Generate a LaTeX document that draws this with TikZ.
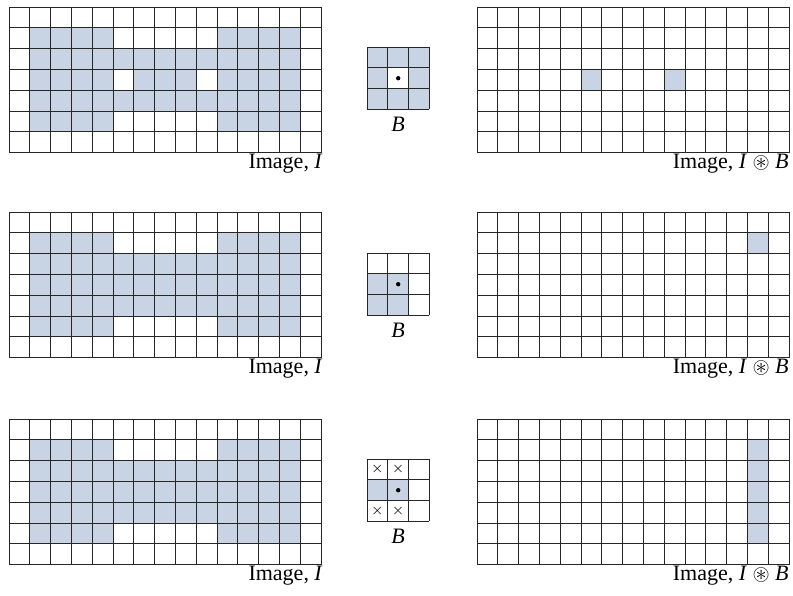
\documentclass[tikz,border=0pt]{standalone}
\usepackage{amssymb}
\usepackage{fontspec}
\setmainfont{Liberation Serif}

\definecolor{cellblue}{RGB}{200,212,228}

\begin{document}
\begin{tikzpicture}[
		x = 0.5pt, y = -0.5pt,
		font = \fontsize{11}{13}\selectfont,
		cell/.style = {x=10.4pt, y=-10.4pt},
		c/.style = {fill=cellblue},
		w/.style = {fill=white},
		g/.style = {draw=black!85, line width=0.5pt},
		lbl/.style = {anchor=base east, inner sep=0pt},
		ker/.style = {anchor=base, inner sep=0pt},
		cross/.style = {inner sep=0pt, font=\scriptsize},
		]
		
		\useasboundingbox (0,0) rectangle (793,595);
		
		%Top row
		\begin{scope}[shift={(9,7)}, cell]
			\fill[c]	(1,1) rectangle (14,6);
			\fill[w]	(5,1) rectangle (10,2);
			\fill[w]	(5,5) rectangle (10,6);
			\fill[w]	(5,3) rectangle (6,4);
			\fill[w]	(9,3) rectangle (10,4);
			\foreach \i in {0,...,15} \draw[g] (\i,0) -- (\i,7);
			\foreach \j in {0,...,7} \draw[g] (0,\j) -- (15,\j);
			\node[lbl]	(img1)	at	(15.1,7.77)	{Image, \textit{I}};
		\end{scope}
		\begin{scope}[shift={(367,47)}, cell]
			\fill[c]	(0,0) rectangle (3,3);
			\fill[w]	(1,1) rectangle (2,2);
			\foreach \i in {0,...,3} \draw[g] (\i,0) -- (\i,3);
			\foreach \j in {0,...,3} \draw[g] (0,\j) -- (3,\j);
			\fill	(1.5,1.5) circle (1.1pt);
			\node[ker]	(ker1)	at	(1.5,4.06)	{\textit{B}};
		\end{scope}
		\begin{scope}[shift={(477,7)}, cell]
			\fill[c]	(5,3) rectangle (6,4);
			\fill[c]	(9,3) rectangle (10,4);
			\foreach \i in {0,...,15} \draw[g] (\i,0) -- (\i,7);
			\foreach \j in {0,...,7} \draw[g] (0,\j) -- (15,\j);
			\node[lbl]	(res1)	at	(15,7.77)	{Image, \textit{I} $\circledast$ \textit{B}};
		\end{scope}
		
		%Middle row
		\begin{scope}[shift={(9,212)}, cell]
			\fill[c]	(1,1) rectangle (14,6);
			\fill[w]	(5,1) rectangle (10,2);
			\fill[w]	(5,5) rectangle (10,6);
			\foreach \i in {0,...,15} \draw[g] (\i,0) -- (\i,7);
			\foreach \j in {0,...,7} \draw[g] (0,\j) -- (15,\j);
			\node[lbl]	(img2)	at	(15.1,7.77)	{Image, \textit{I}};
		\end{scope}
		\begin{scope}[shift={(367,253)}, cell]
			\fill[c]	(0,1) rectangle (2,3);
			\foreach \i in {0,...,3} \draw[g] (\i,0) -- (\i,3);
			\foreach \j in {0,...,3} \draw[g] (0,\j) -- (3,\j);
			\fill	(1.5,1.5) circle (1.1pt);
			\node[ker]	(ker2)	at	(1.5,4.06)	{\textit{B}};
		\end{scope}
		\begin{scope}[shift={(477,212)}, cell]
			\fill[c]	(13,1) rectangle (14,2);
			\foreach \i in {0,...,15} \draw[g] (\i,0) -- (\i,7);
			\foreach \j in {0,...,7} \draw[g] (0,\j) -- (15,\j);
			\node[lbl]	(res2)	at	(15,7.77)	{Image, \textit{I} $\circledast$ \textit{B}};
		\end{scope}
		
		%Bottom row
		\begin{scope}[shift={(9,419)}, cell]
			\fill[c]	(1,1) rectangle (14,6);
			\fill[w]	(5,1) rectangle (10,2);
			\fill[w]	(5,5) rectangle (10,6);
			\foreach \i in {0,...,15} \draw[g] (\i,0) -- (\i,7);
			\foreach \j in {0,...,7} \draw[g] (0,\j) -- (15,\j);
			\node[lbl]	(img3)	at	(15.1,7.77)	{Image, \textit{I}};
		\end{scope}
		\begin{scope}[shift={(367,459)}, cell]
			\fill[c]	(0,1) rectangle (2,2);
			\foreach \i in {0,...,3} \draw[g] (\i,0) -- (\i,3);
			\foreach \j in {0,...,3} \draw[g] (0,\j) -- (3,\j);
			\fill	(1.5,1.5) circle (1.1pt);
			\foreach \p in {0,1} {
				\node[cross]	(xt\p)	at	(\p+0.5,0.5)	{$\times$};
				\node[cross]	(xb\p)	at	(\p+0.5,2.5)	{$\times$};
			}
			\node[ker]	(ker3)	at	(1.5,4.06)	{\textit{B}};
		\end{scope}
		\begin{scope}[shift={(477,419)}, cell]
			\fill[c]	(13,1) rectangle (14,6);
			\foreach \i in {0,...,15} \draw[g] (\i,0) -- (\i,7);
			\foreach \j in {0,...,7} \draw[g] (0,\j) -- (15,\j);
			\node[lbl]	(res3)	at	(15,7.77)	{Image, \textit{I} $\circledast$ \textit{B}};
		\end{scope}
		
	\end{tikzpicture}
\end{document}
